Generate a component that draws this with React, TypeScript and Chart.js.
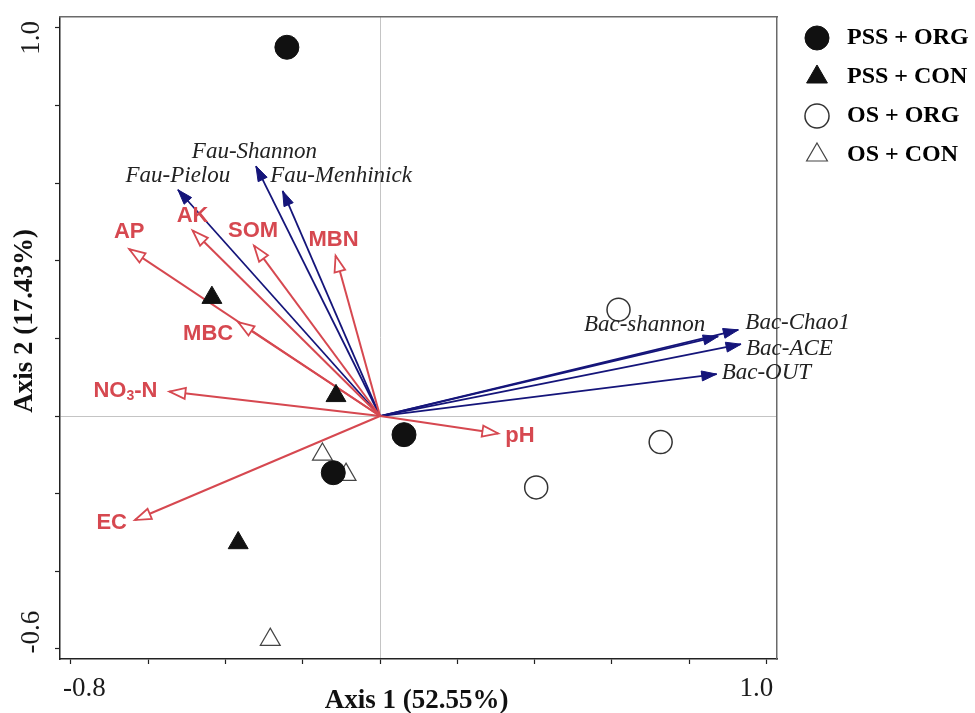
import React, { useEffect, useRef } from 'react';
import { Chart, registerables } from 'chart.js';

Chart.register(...registerables);

// ---------- data ----------
const xTickValues = [-0.8, -0.6, -0.4, -0.2, 0, 0.2, 0.4, 0.6, 0.8, 1.0];
const xTickLabels = ['-0.8', '', '', '', '', '', '', '', '', '1.0'];
const yTickValues = [-0.6, -0.4, -0.2, 0, 0.2, 0.4, 0.6, 0.8, 1.0];
const yTickLabels = ['-0.6', '', '', '', '', '', '', '', '1.0'];

const xTitle = 'Axis 1 (52.55%)';
const yTitle = 'Axis 2 (17.43%)';

const groupNames = ['PSS + ORG', 'PSS + CON', 'OS + ORG', 'OS + CON'];
const pssOrgAxis1 = [-0.241, 0.062, -0.121];
const pssOrgAxis2 = [0.95, -0.048, -0.146];
const pssConAxis1 = [-0.435, -0.114, -0.367];
const pssConAxis2 = [0.305, 0.052, -0.327];
const osOrgAxis1 = [0.617, 0.726, 0.404];
const osOrgAxis2 = [0.274, -0.067, -0.184];
const osConAxis1 = [-0.149, -0.088, -0.284];
const osConAxis2 = [-0.099, -0.151, -0.576];

const envNames = ['AP', 'AK', 'SOM', 'MBN', 'MBC', 'NO3-N', 'EC', 'pH'];
const envAxis1 = [-0.649, -0.485, -0.326, -0.115, -0.367, -0.545, -0.634, 0.306];
const envAxis2 = [0.43, 0.478, 0.439, 0.413, 0.242, 0.063, -0.268, -0.045];

const divNames = ['Fau-Pielou', 'Fau-Shannon', 'Fau-Menhinick', 'Bac-shannon', 'Bac-Chao1', 'Bac-ACE', 'Bac-OUT'];
const divAxis1 = [-0.523, -0.321, -0.252, 0.875, 0.927, 0.934, 0.871];
const divAxis2 = [0.583, 0.644, 0.58, 0.205, 0.222, 0.185, 0.108];

// ---------- styles / label layout (pixels, kept apart from data) ----------
const RED = 'rgb(214,72,80)';
const NAVY = '#15157a';
const SERIF = '"Liberation Serif", "Times New Roman", serif';
const SANS = '"Liberation Sans", Arial, sans-serif';

type LabelPos = { dx: number; dy: number; align: CanvasTextAlign };
const envLabelPos: LabelPos[] = [
  { dx: 0, dy: -17, align: 'center' },
  { dx: 0, dy: -15, align: 'center' },
  { dx: -1, dy: -15, align: 'center' },
  { dx: -2, dy: -16, align: 'center' },
  { dx: -5, dy: 12, align: 'right' },
  { dx: -12, dy: -1, align: 'right' },
  { dx: -8, dy: 3, align: 'right' },
  { dx: 7, dy: 2, align: 'left' },
];
const divLabelPos: LabelPos[] = [
  { dx: 0, dy: -14, align: 'center' },
  { dx: -1.5, dy: -14, align: 'center' },
  { dx: -12.5, dy: -15, align: 'left' },
  { dx: -13, dy: -11, align: 'right' },
  { dx: 7, dy: -7, align: 'left' },
  { dx: 5, dy: 5, align: 'left' },
  { dx: 5, dy: -1.5, align: 'left' },
];

const toPoints = (xs: number[], ys: number[]) => xs.map((v, i) => ({ x: v, y: ys[i] }));

function drawHead(ctx: CanvasRenderingContext2D, tx: number, ty: number, ang: number, len: number, half: number, fill: string, stroke: string, lw: number) {
  const c = Math.cos(ang), s = Math.sin(ang);
  const bx = tx - len * c, by = ty - len * s;
  ctx.beginPath();
  ctx.moveTo(tx, ty);
  ctx.lineTo(bx - half * s, by + half * c);
  ctx.lineTo(bx + half * s, by - half * c);
  ctx.closePath();
  ctx.fillStyle = fill;
  ctx.fill();
  ctx.lineWidth = lw;
  ctx.strokeStyle = stroke;
  ctx.lineJoin = 'miter';
  ctx.stroke();
}

const biplotPlugin = {
  id: 'biplot',
  afterDatasetsDraw(chart: any) {
    const { ctx, scales } = chart;
    const xs = scales.x, ys = scales.y;
    const ox = xs.getPixelForValue(0), oy = ys.getPixelForValue(0);
    ctx.save();
    envNames.forEach((name, i) => {
      const tx = xs.getPixelForValue(envAxis1[i]);
      const ty = ys.getPixelForValue(envAxis2[i]);
      const ang = Math.atan2(ty - oy, tx - ox);
      drawHead(ctx, tx, ty, ang, 16, 5.5, '#ffffff', RED, 1.8);
      const p = envLabelPos[i];
      const lx = tx + p.dx, ly = ty + p.dy;
      ctx.fillStyle = RED;
      ctx.textBaseline = 'middle';
      if (name === 'NO3-N') {
        const big = `bold 22px ${SANS}`, small = `bold 14px ${SANS}`;
        ctx.font = big; const w1 = ctx.measureText('NO').width; const w3 = ctx.measureText('-N').width;
        ctx.font = small; const w2 = ctx.measureText('3').width;
        let sx = lx - (w1 + w2 + w3);
        ctx.textAlign = 'left';
        ctx.font = big; ctx.fillText('NO', sx, ly); sx += w1;
        ctx.font = small; ctx.fillText('3', sx, ly + 6); sx += w2;
        ctx.font = big; ctx.fillText('-N', sx, ly);
      } else {
        ctx.font = `bold 22px ${SANS}`;
        ctx.textAlign = p.align;
        ctx.fillText(name, lx, ly);
      }
    });
    divNames.forEach((name, i) => {
      const tx = xs.getPixelForValue(divAxis1[i]);
      const ty = ys.getPixelForValue(divAxis2[i]);
      const ang = Math.atan2(ty - oy, tx - ox);
      drawHead(ctx, tx, ty, ang, 15, 5, NAVY, NAVY, 1);
      const p = divLabelPos[i];
      ctx.fillStyle = '#222';
      ctx.font = `italic 23px ${SERIF}`;
      ctx.textAlign = p.align;
      ctx.textBaseline = 'middle';
      ctx.fillText(name, tx + p.dx, ty + p.dy);
    });
    ctx.restore();
  },
  afterDraw(chart: any) {
    const { ctx, chartArea } = chart;
    ctx.save();
    ctx.fillStyle = '#111';
    ctx.font = `bold 27px ${SERIF}`;
    ctx.textAlign = 'center';
    ctx.textBaseline = 'alphabetic';
    ctx.fillText(xTitle, (chartArea.left + chartArea.right) / 2 - 2, chartArea.bottom + 49);
    ctx.translate(32, (chartArea.top + chartArea.bottom) / 2 - 17);
    ctx.rotate(-Math.PI / 2);
    ctx.fillText(yTitle, 0, 0);
    ctx.restore();
  },
};

export default function App() {
  const ref = useRef<HTMLCanvasElement | null>(null);

  useEffect(() => {
    if (!ref.current) return;

    const pointSets = [
      { label: groupNames[0], data: toPoints(pssOrgAxis1, pssOrgAxis2), pointStyle: 'circle', pointRadius: 12, backgroundColor: '#111', borderColor: '#111', borderWidth: 1 },
      { label: groupNames[1], data: toPoints(pssConAxis1, pssConAxis2), pointStyle: 'triangle', pointRadius: 11.5, backgroundColor: '#111', borderColor: '#111', borderWidth: 1 },
      { label: groupNames[2], data: toPoints(osOrgAxis1, osOrgAxis2), pointStyle: 'circle', pointRadius: 11.5, backgroundColor: '#fff', borderColor: '#333', borderWidth: 1.5 },
      { label: groupNames[3], data: toPoints(osConAxis1, osConAxis2), pointStyle: 'triangle', pointRadius: 11.5, backgroundColor: '#fff', borderColor: '#444', borderWidth: 1.2 },
    ].map((d) => ({ ...d, order: 0, showLine: false }));

    const envSets = envNames.map((n, i) => ({
      label: n,
      data: [{ x: 0, y: 0 }, { x: envAxis1[i], y: envAxis2[i] }],
      showLine: true, pointRadius: 0, borderColor: RED, backgroundColor: RED, borderWidth: 2, order: 1,
    }));
    const divSets = divNames.map((n, i) => ({
      label: n,
      data: [{ x: 0, y: 0 }, { x: divAxis1[i], y: divAxis2[i] }],
      showLine: true, pointRadius: 0, borderColor: NAVY, backgroundColor: NAVY, borderWidth: 1.8, order: 1,
    }));

    const zeroGrid = (c: any) => (c.tick && c.tick.value === 0 ? '#c4c4c4' : 'rgba(0,0,0,0)');

    const chart = new Chart(ref.current, {
      type: 'scatter',
      data: { datasets: [...pointSets, ...envSets, ...divSets] as any },
      options: {
        animation: false,
        responsive: true,
        maintainAspectRatio: false,
        events: [],
        layout: { padding: { left: 0, top: 0, right: 0, bottom: 0 } },
        scales: {
          x: {
            type: 'linear', position: 'bottom', min: -0.828, max: 1.027,
            afterBuildTicks: (s: any) => { s.ticks = xTickValues.map((v) => ({ value: v })); },
            afterFit: (s: any) => { s.height = 54; },
            ticks: {
              autoSkip: false, maxRotation: 0, minRotation: 0, padding: 9, color: '#1a1a1a',
              font: { family: SERIF, size: 27 },
              callback: (_v: any, i: number) => {
                const t = xTickLabels[i] || '';
                if (i === 0) return '    ' + t;
                if (i === xTickLabels.length - 1) return t + '   ';
                return t;
              },
            },
            grid: { display: true, drawOnChartArea: true, color: zeroGrid, lineWidth: 1, tickColor: '#222', tickLength: 5, tickWidth: 1.2 },
            border: { display: true, color: '#222', width: 1.5 },
          },
          y: {
            type: 'linear', position: 'left', min: -0.626, max: 1.028,
            afterBuildTicks: (s: any) => { s.ticks = yTickValues.map((v) => ({ value: v })); },
            afterFit: (s: any) => { s.width = 60; },
            ticks: {
              autoSkip: false, minRotation: 90, maxRotation: 90, crossAlign: 'center', padding: -14.75, color: '#1a1a1a',
              font: { family: SERIF, size: 27 },
              callback: (_v: any, i: number) => {
                const t = yTickLabels[i] || '';
                if (i === 0) return '     ' + t;
                if (i === yTickLabels.length - 1) return t + '   ';
                return t;
              },
            },
            grid: { display: true, drawOnChartArea: true, color: zeroGrid, lineWidth: 1, tickColor: '#222', tickLength: 5, tickWidth: 1.2 },
            border: { display: true, color: '#222', width: 1.5 },
          },
          x2: {
            type: 'linear', position: 'top', min: -0.828, max: 1.027, display: true,
            afterFit: (s: any) => { s.height = 17; },
            ticks: { display: false },
            grid: { display: false, drawTicks: false },
            border: { display: true, color: '#6a6a6a', width: 1.5 },
          },
          y2: {
            type: 'linear', position: 'right', min: -0.626, max: 1.028, display: true,
            afterFit: (s: any) => { s.width = 13; },
            ticks: { display: false },
            grid: { display: false, drawTicks: false },
            border: { display: true, color: '#6a6a6a', width: 1.5 },
          },
        } as any,
        plugins: {
          tooltip: { enabled: false },
          title: { display: false },
          legend: {
            display: true,
            position: 'right',
            align: 'start',
            maxWidth: 185,
            title: { display: true, text: '', font: { size: 11, lineHeight: 1 }, padding: 0 },
            labels: {
              usePointStyle: true,
              boxWidth: 24,
              boxHeight: 17,
              padding: 15,
              color: '#000',
              font: { family: SERIF, size: 24, weight: 'bold', lineHeight: 1.2 },
              generateLabels: (c: any) =>
                (Chart.defaults.plugins.legend.labels.generateLabels as any)(c)
                  .filter((it: any) => it.datasetIndex < 4)
                  .map((it: any) => ({ ...it, text: ' ' + it.text })),
            },
          },
        } as any,
      },
      plugins: [biplotPlugin],
    });

    return () => chart.destroy();
  }, []);

  return (
    <div style={{ position: 'absolute', left: 0, top: 0, width: 975, height: 713 }}>
      <canvas ref={ref} />
    </div>
  );
}
